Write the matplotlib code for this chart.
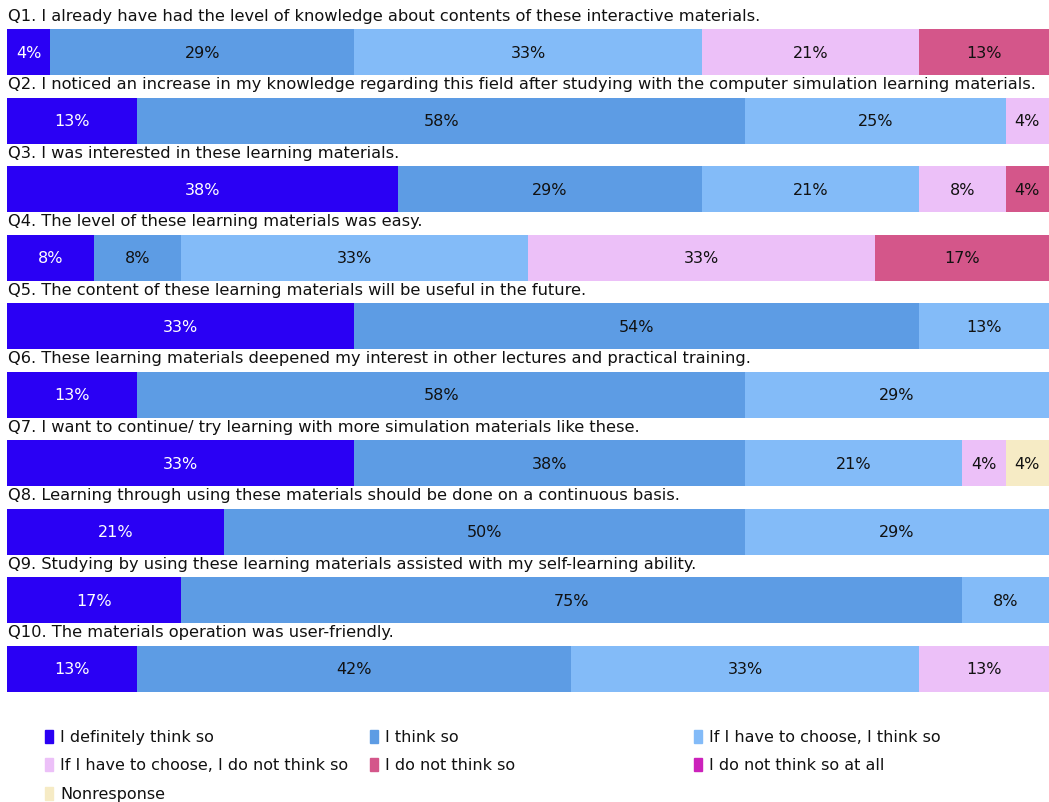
import matplotlib
matplotlib.use("Agg")
import matplotlib.pyplot as plt
from matplotlib.patches import Rectangle

# survey answers, respondent counts out of 24 per question
questions = [
    "Q1. I already have had the level of knowledge about contents of these interactive materials.",
    "Q2. I noticed an increase in my knowledge regarding this field after studying with the computer simulation learning materials.",
    "Q3. I was interested in these learning materials.",
    "Q4. The level of these learning materials was easy.",
    "Q5. The content of these learning materials will be useful in the future.",
    "Q6. These learning materials deepened my interest in other lectures and practical training.",
    "Q7. I want to continue/ try learning with more simulation materials like these.",
    "Q8. Learning through using these materials should be done on a continuous basis.",
    "Q9. Studying by using these learning materials assisted with my self-learning ability.",
    "Q10. The materials operation was user-friendly.",
]
categories = ["I definitely think so", "I think so", "If I have to choose, I think so",
              "If I have to choose, I do not think so", "I do not think so",
              "I do not think so at all", "Nonresponse"]
definitely = [1, 3, 9, 2, 8, 3, 8, 5, 4, 3]
think = [7, 14, 7, 2, 13, 14, 9, 12, 18, 10]
choose_think = [8, 6, 5, 8, 3, 7, 5, 7, 2, 8]
choose_not = [5, 1, 2, 8, 0, 0, 1, 0, 0, 3]
not_think = [3, 0, 1, 4, 0, 0, 0, 0, 0, 0]
not_at_all = [0, 0, 0, 0, 0, 0, 0, 0, 0, 0]
nonresponse = [0, 0, 0, 0, 0, 0, 1, 0, 0, 0]
total = 24

series = [definitely, think, choose_think, choose_not, not_think, not_at_all, nonresponse]
colors = ["#2a00f4", "#5d9ce4", "#83bbf8", "#ecc0f8", "#d4568a", "#cc22bb", "#f6ebc5"]
text_colors = ["white", "#111111", "#111111", "#111111", "#111111", "white", "#111111"]

W, H = 1049, 803
fig = plt.figure(figsize=(W / 100, H / 100), dpi=100)
ax = fig.add_axes([7 / W, 1 - 704 / H, 1 - 7 / W, 704 / H])

rows = list(range(len(questions)))
left = [0.0] * len(questions)
for vals, col, tcol in zip(series, colors, text_colors):
    pct = [100 * v / total for v in vals]
    ax.barh(rows, pct, left=left, height=0.67, color=col, edgecolor="none")
    for i, p in enumerate(pct):
        if p > 0:
            ax.text(left[i] + p / 2, i, "%d%%" % int(p + 0.5), ha="center", va="center",
                    fontsize=11.5, color=tcol)
    left = [l + p for l, p in zip(left, pct)]

for i, q in enumerate(questions):
    ax.text(0.1, i - 0.54, q, ha="left", va="center", fontsize=11.7, color="#111111")

ax.set_xlim(0, 100)
ax.set_ylim(9.5, -0.78)
ax.axis("off")

# legend laid out like the original: three fixed columns
col_x = [45, 370, 694]
row_y = [738, 766, 795]
for k, name in enumerate(categories):
    x = col_x[k % 3]
    y = row_y[k // 3]
    fig.add_artist(Rectangle((x / W, 1 - (y + 6) / H), 8 / W, 13 / H,
                             transform=fig.transFigure, color=colors[k]))
    fig.text((x + 15) / W, 1 - y / H, name, ha="left", va="center", fontsize=11.5,
             color="#111111")

fig.savefig("out.png", dpi=100)
